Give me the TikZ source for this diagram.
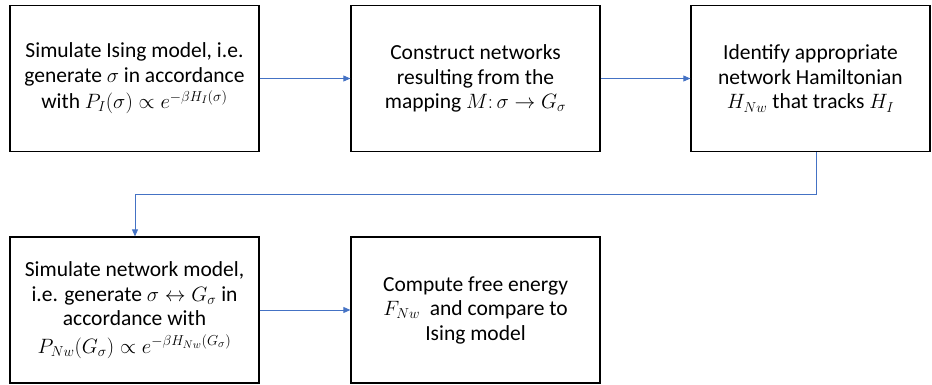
\documentclass[tikz,border=0pt]{standalone}
\usepackage{fontspec}
\setmainfont{Carlito}
\usetikzlibrary{arrows.meta}
\definecolor{flow}{HTML}{4472C4}
\begin{document}
\begin{tikzpicture}[x=1pt,y=-1pt,
  stepbox/.style={draw=black,line width=1.3pt,inner sep=0pt,align=center,
    minimum height=146pt,font=\fontsize{21.5}{24.5}\selectfont},
  flowline/.style={draw=flow,line width=0.8pt,-{Triangle[length=7pt,width=6pt]}}]
\useasboundingbox (0,0) rectangle (932,385);
\node[stepbox,minimum width=249pt] (sim) at (134.5,78.5)
  {Simulate Ising model, i.e.\\ generate $\sigma$ in accordance\\[2pt] with $P_I(\sigma)\propto e^{-\beta H_I(\sigma)}$};
\node[stepbox,minimum width=249pt] (net) at (475.5,78.5)
  {Construct networks\\ resulting from the\\ mapping $M\colon\sigma\rightarrow G_\sigma$};
\node[stepbox,minimum width=239pt] (ham) at (810.5,78.5)
  {Identify appropriate\\ network Hamiltonian\\ $H_{Nw}$ that tracks $H_I$};
\node[stepbox,minimum width=249pt] (nsim) at (134.5,310)
  {Simulate network model,\\ i.e. generate $\sigma\leftrightarrow G_\sigma$ in\\ accordance with\\[3pt] $P_{Nw}(G_\sigma)\propto e^{-\beta H_{Nw}(G_\sigma)}$};
\node[stepbox,minimum width=249pt] (free) at (475.5,310)
  {Compute free energy\\ $F_{Nw}$\ \ and compare to\\ Ising model};
\coordinate (bendA) at (816,194);
\coordinate (bendB) at (135,194);
\draw[flowline] (sim) -- (net);
\draw[flowline] (net) -- (ham);
\draw[flowline] (ham.south -| bendA) -- (bendA) -- (bendB) -- (nsim.north -| bendB);
\draw[flowline] (nsim) -- (free);
\end{tikzpicture}
\end{document}
